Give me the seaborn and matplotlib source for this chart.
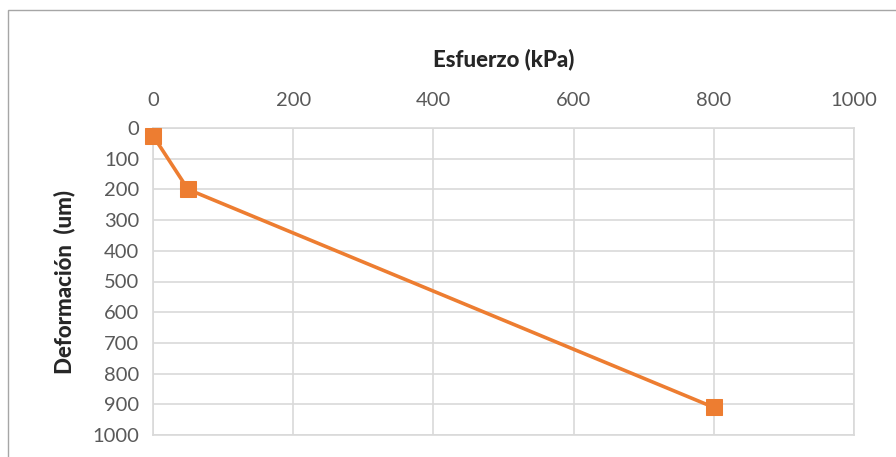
import numpy as np
import pandas as pd
import seaborn as sns
import matplotlib.pyplot as plt
from matplotlib.patches import Rectangle

# Datos
esfuerzo = [0, 50, 800]          # kPa
deformacion = [25, 200, 910]     # um

x_ticks = [0, 200, 400, 600, 800, 1000]
y_ticks = [0, 100, 200, 300, 400, 500, 600, 700, 800, 900, 1000]

df = pd.DataFrame({"Esfuerzo": esfuerzo, "Deformacion": deformacion})

sns.set_style("white")
plt.rcParams['font.family'] = ['Lato', 'DejaVu Sans']

fig = plt.figure(figsize=(8.96, 4.57), dpi=100)
ax = fig.add_axes([153 / 896, 1 - 435 / 457, (854 - 153) / 896, (435 - 128) / 457])

sns.lineplot(
    data=df, x="Esfuerzo", y="Deformacion", ax=ax,
    color="#ED7D31", linewidth=2.6, marker="s", markersize=11,
    markeredgecolor="#ED7D31", sort=False, clip_on=False, zorder=5
)

ax.set_xlim(0, 1000)
ax.set_ylim(1000, 0)
ax.set_xticks(x_ticks)
ax.set_yticks(y_ticks)
ax.xaxis.tick_top()
ax.xaxis.set_label_position("top")
ax.tick_params(axis="both", length=0, labelsize=14.5, labelcolor="#595959")
ax.tick_params(axis="x", pad=14)
ax.tick_params(axis="y", pad=10)

ax.grid(True, color="#D9D9D9", linewidth=1.2)
for s in ax.spines.values():
    s.set_color("#D9D9D9")
    s.set_linewidth(1.2)

ax.set_xlabel("Esfuerzo (kPa)", fontsize=16, fontweight="black", labelpad=18)
ax.set_ylabel("Deformación  (um)", fontsize=16, fontweight="black", labelpad=12)

# Marco del área del gráfico
fig.patches.append(Rectangle((8 / 896, -0.1), 1.2, 1.1 - 10 / 457,
                             transform=fig.transFigure, fill=False,
                             edgecolor="#A6A6A6", linewidth=1))

fig.savefig("out.png", dpi=100)
